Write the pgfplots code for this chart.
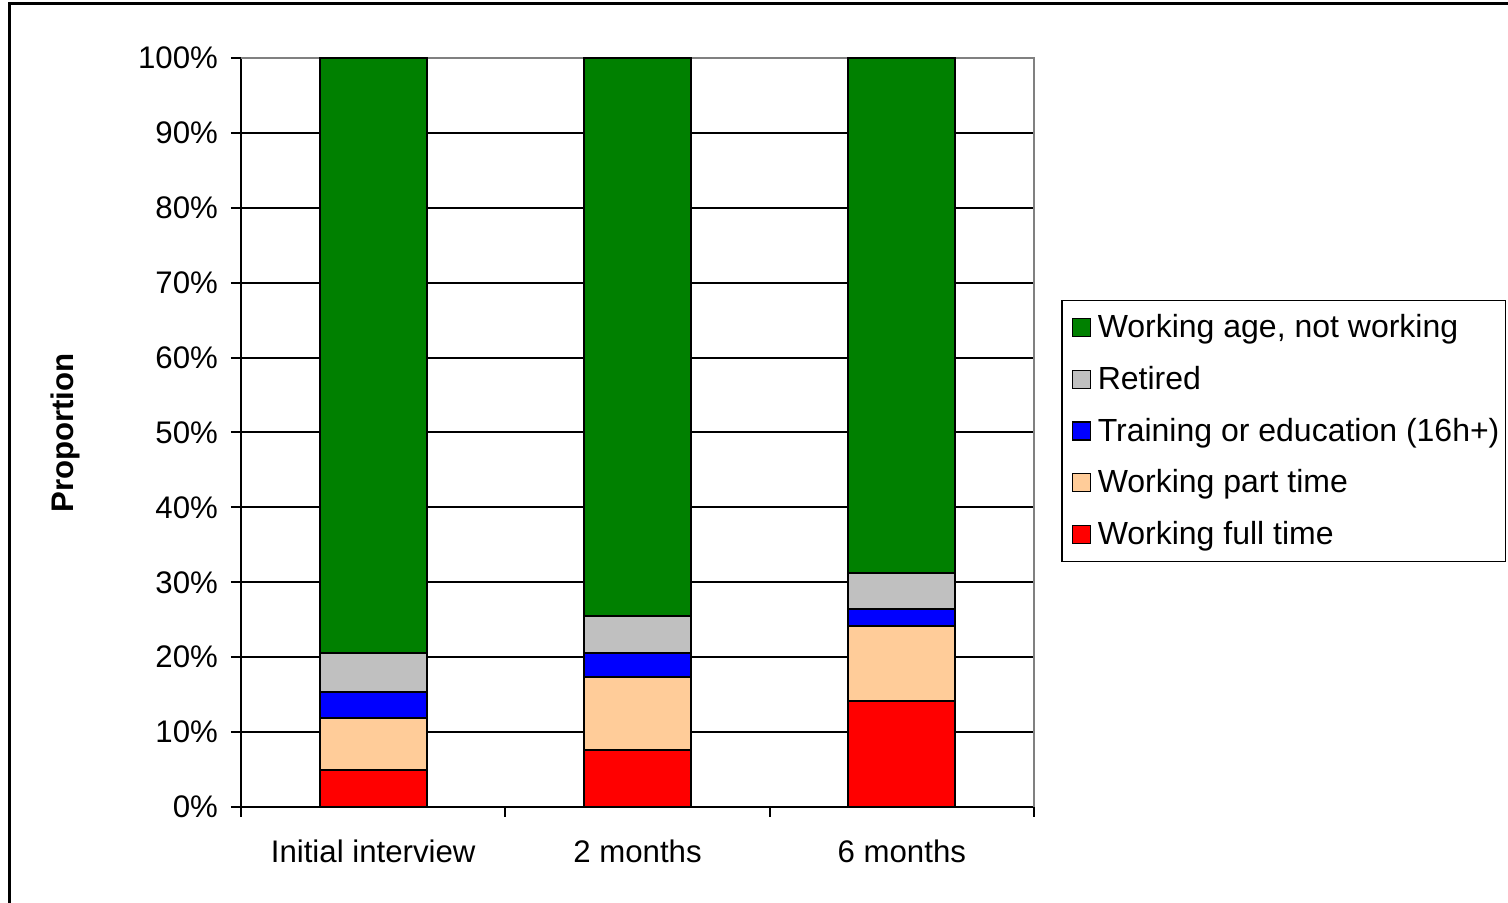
\documentclass[border=0pt]{standalone}
\usepackage{pgfplots}
\pgfplotsset{compat=1.18}
\usepackage{fontspec}
\setmainfont{Liberation Sans}
\definecolor{cgreen}{RGB}{0,128,0}
\definecolor{cgray}{RGB}{192,192,192}
\definecolor{cblue}{RGB}{0,0,255}
\definecolor{cpeach}{RGB}{255,204,153}
\definecolor{cred}{RGB}{255,0,0}
\definecolor{axgray}{RGB}{128,128,128}
\begin{document}
\begin{tikzpicture}
\path[use as bounding box] (0,0) rectangle (754pt,451.5pt);
\draw[line width=1.5pt] (4.5pt,-2pt) -- (4.5pt,449.5pt) -- (756pt,449.5pt);
\begin{axis}[
  at={(120.5pt,48pt)}, anchor=south west,
  scale only axis, width=396.5pt, height=374.5pt,
  ybar stacked, bar width=53.5pt,
  xmin=-0.5, xmax=2.5, ymin=0, ymax=100,
  xtick={0,1,2}, xticklabels={Initial interview,2 months,6 months},
  minor xtick={-0.5,0.5,1.5,2.5},
  ytick={0,10,...,100},
  yticklabel={\pgfmathprintnumber{\tick}\%},
  /pgf/number format/assume math mode=true,
  tick align=outside, tick pos=lower,
  major tick length=5pt, minor tick length=5pt,
  x tick style={draw=none},
  minor x tick style={draw=black, line width=1pt},
  y tick style={draw=black, line width=1pt},
  ymajorgrids, grid style={black, line width=1pt},
  axis x line*=bottom, axis y line*=left,
  axis line style={black, line width=1pt, -},
  tick label style={font=\fontsize{15.6}{18}\selectfont},
  xticklabel style={yshift=-8pt},
  yticklabel style={xshift=-3pt},
  legend style={at={(1.034,0.502)}, anchor=west, draw=black, line width=0.8pt,
    font=\fontsize{16}{19}\selectfont, row sep=8.8pt, inner xsep=3pt, inner ysep=5pt,
    nodes={inner xsep=0pt}},
  legend cell align=left, reverse legend,
  legend image code/.code={\path[draw=none,fill=none] (0pt,0pt) -- (15pt,0pt);\draw[#1, draw=black, line width=0.6pt] (2.5pt,-4.5pt) rectangle (11.5pt,4.5pt);},
  every axis plot/.append style={draw=black, line width=1pt},
  clip=false,
]
\addplot[fill=cred] coordinates {(0,5.0) (1,7.6) (2,14.2)};
\addlegendentry{Working full time}
\addplot[fill=cpeach] coordinates {(0,6.9) (1,9.7) (2,10.0)};
\addlegendentry{Working part time}
\addplot[fill=cblue] coordinates {(0,3.5) (1,3.3) (2,2.3)};
\addlegendentry{Training or education (16h+)}
\addplot[fill=cgray] coordinates {(0,5.2) (1,4.9) (2,4.7)};
\addlegendentry{Retired}
\addplot[fill=cgreen] coordinates {(0,79.4) (1,74.5) (2,68.8)};
\addlegendentry{Working age, not working}
\draw[axgray, line width=1pt] (rel axis cs:0,1) -- (rel axis cs:1,1) -- (rel axis cs:1,0);
\end{axis}
\node[rotate=90, font=\bfseries\fontsize{15.6}{18}\selectfont] at (32.5pt,235pt) {Proportion};
\end{tikzpicture}
\end{document}
